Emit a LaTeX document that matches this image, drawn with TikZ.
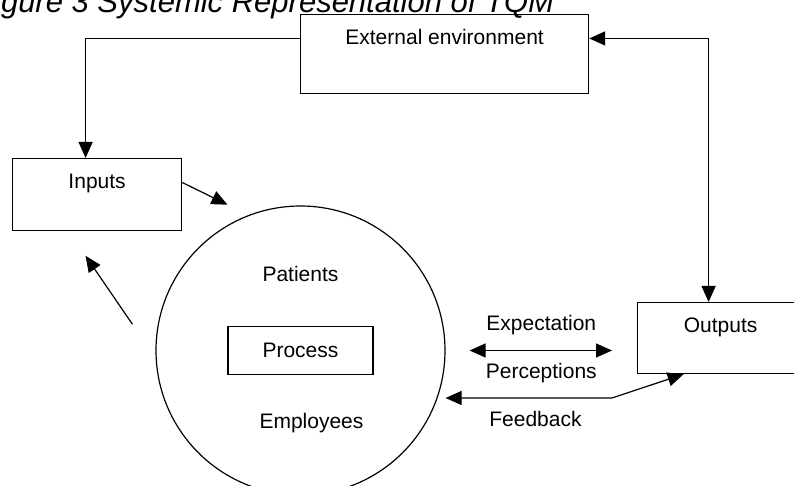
\documentclass[tikz,border=0pt]{standalone}
\usepackage{fontspec}
\setmainfont{Liberation Sans}
\usetikzlibrary{arrows.meta}
\usetikzlibrary{positioning}

\tikzset{
  tbox/.style={draw, inner xsep=0pt, inner ysep=0pt, text height=15pt, anchor=north west},
}

\begin{document}
\begin{tikzpicture}[line width=0.6pt, >={Triangle[length=8pt,width=7pt]},
    every node/.style={font=\fontsize{10.5}{12.6}\selectfont}]
    \useasboundingbox (0pt,0pt) rectangle (397pt,-243pt);

    \node (title) [anchor=base west, inner sep=0pt, font=\fontsize{15.5}{18}\selectfont\itshape]
      at (-12.7pt,-6.5pt) {Figure 3 Systemic Representation of TQM};

    \node (ext) [tbox, minimum width=144pt, text depth=24.35pt] at (150pt,-7pt) {External environment};
    \node (inp) [tbox, minimum width=84.5pt, text depth=20.85pt] at (6pt,-79pt) {Inputs};
    \node (out) [tbox, minimum width=83pt, text depth=20.5pt] at (318.5pt,-151pt) {Outputs};

    \node (circ) [circle, draw, minimum size=144.5pt, inner sep=0pt] at (150.25pt,-175.25pt) {};
    \node (proc) [draw, minimum width=72.5pt, minimum height=24pt] at (circ) {Process};
    \node (pat) [above = 18.3pt of proc] {Patients};
    \node (emp) [below = 15.3pt of proc, xshift=5.5pt] {Employees};

    \coordinate (fbk) at (306pt,-199pt);

    \draw [->] ([yshift=7.75pt]ext.west) -| ([xshift=-5.75pt]inp.north);
    \draw [<->] ([yshift=7.75pt]ext.east) -| ([xshift=-6pt]out.north);

    \draw [->, shorten >=11.7pt] ([yshift=6pt]inp.east) -- (circ.111);
    \draw [->, shorten <=20.5pt, shorten >=15.1pt] (circ.183) -- ([xshift=-14.3pt]inp.south);

    \draw [<->, shorten <=12pt, shorten >=12.5pt] (circ.east) --
      node [above=4pt] {Expectation} node [below=2.8pt] {Perceptions} (circ.east -| out.west);
    \draw [<->] (fbk -| circ.east) -- node [pos=.54, below=3pt] {Feedback} (fbk) -- ([xshift=-18.5pt]out.south);
  \end{tikzpicture}
\end{document}
